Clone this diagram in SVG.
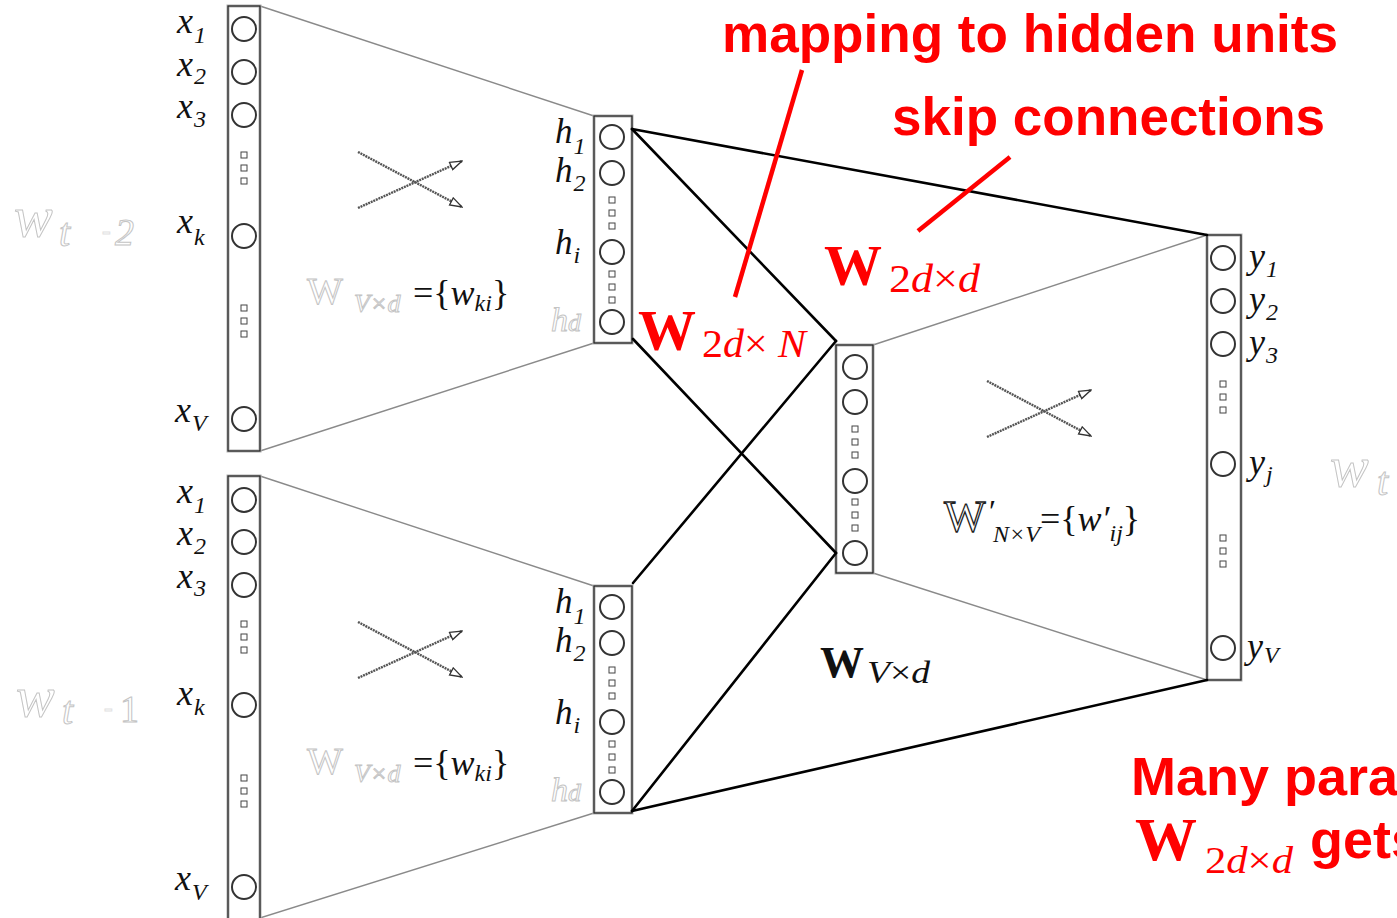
<svg xmlns="http://www.w3.org/2000/svg" xmlns:xlink="http://www.w3.org/1999/xlink" width="1397" height="918" viewBox="0 0 1397 918">
<defs>
<style>
.colo{fill:#fff;stroke:#b0b0b0;stroke-width:3}
.coli{fill:none;stroke:#222;stroke-width:1.2}
.nd{fill:#fff;stroke:#333;stroke-width:2}
.sq{fill:#fff;stroke:#444;stroke-width:1}
.trap{stroke:#8a8a8a;stroke-width:1.4;fill:none}
.conn{stroke:#000;stroke-width:2.6;fill:none;stroke-linecap:round}
.rl{stroke:#f00;stroke-width:4.5;stroke-linecap:butt}
.xa{stroke:#555;stroke-width:2.4;stroke-dasharray:2 0.8;fill:none}
.m{font-family:"Liberation Serif","Times New Roman",serif;font-style:italic;fill:#111}
.up{font-family:"Liberation Serif","Times New Roman",serif;fill:#111}
.bw{font-family:"Liberation Serif","Times New Roman",serif;font-weight:bold}
.gh{font-family:"Liberation Serif","Times New Roman",serif;font-style:italic;fill:#fff;stroke:#c4c4c4;stroke-width:1}
.ghn{font-family:"Liberation Serif","Times New Roman",serif;font-style:normal;fill:#fff;stroke:#c4c4c4;stroke-width:1}
.red{fill:#f00}
.rt{font-family:"Liberation Sans",Arial,sans-serif;font-weight:bold;fill:#f00}
</style>
<marker id="ah" viewBox="0 0 14 10" refX="13" refY="5" markerWidth="14" markerHeight="10" markerUnits="userSpaceOnUse" orient="auto">
<path d="M1,1 L13,5 L1,9 Z" fill="#fff" stroke="#333" stroke-width="1.3"/>
</marker>
<g id="dots" class="sq"><rect x="-3" y="-16" width="6" height="6"/><rect x="-3" y="-3" width="6" height="6"/><rect x="-3" y="10" width="6" height="6"/></g>
<g id="xarr"><line class="xa" x1="0" y1="0" x2="104" y2="55" marker-end="url(#ah)"/><line class="xa" x1="0" y1="56" x2="104" y2="9" marker-end="url(#ah)"/></g>
</defs>
<rect width="1397" height="918" fill="#fff"/>

<!-- trapezoid (gray) lines -->
<g id="trapezoids">
<line class="trap" x1="260" y1="6" x2="594" y2="116"/>
<line class="trap" x1="260" y1="451" x2="594" y2="343"/>
<line class="trap" x1="260" y1="476" x2="594" y2="586"/>
<line class="trap" x1="260" y1="918" x2="594" y2="813"/>
<line class="trap" x1="873" y1="345" x2="1207" y2="235"/>
<line class="trap" x1="873" y1="573" x2="1207" y2="680"/>
</g>

<!-- top input layer -->
<g id="input-top">
<rect class="colo" x="228" y="6" width="32" height="445"/>
<rect class="coli" x="228" y="6" width="32" height="445"/>
<circle class="nd" cx="244" cy="29" r="12"/>
<circle class="nd" cx="244" cy="72" r="12"/>
<circle class="nd" cx="244" cy="115" r="12"/>
<circle class="nd" cx="244" cy="236" r="12"/>
<circle class="nd" cx="244" cy="419" r="12"/>
<use xlink:href="#dots" x="244" y="168"/>
<use xlink:href="#dots" x="244" y="321"/>
<text class="m" x="177" y="33" font-size="36">x<tspan font-size="24" dy="10" dx="1">1</tspan></text>
<text class="m" x="177" y="76" font-size="36">x<tspan font-size="24" dy="8" dx="1">2</tspan></text>
<text class="m" x="177" y="118" font-size="36">x<tspan font-size="24" dy="9" dx="1">3</tspan></text>
<text class="m" x="177" y="233" font-size="36">x<tspan font-size="24" dy="12" dx="1">k</tspan></text>
<text class="m" x="175" y="422" font-size="36">x<tspan font-size="24" dy="9" dx="1">V</tspan></text>
</g>

<!-- bottom input layer -->
<g id="input-bottom">
<rect class="colo" x="228" y="476" width="32" height="460"/>
<rect class="coli" x="228" y="476" width="32" height="460"/>
<circle class="nd" cx="244" cy="500" r="12"/>
<circle class="nd" cx="244" cy="542" r="12"/>
<circle class="nd" cx="244" cy="585" r="12"/>
<circle class="nd" cx="244" cy="705" r="12"/>
<circle class="nd" cx="244" cy="887" r="12"/>
<use xlink:href="#dots" x="244" y="637"/>
<use xlink:href="#dots" x="244" y="791"/>
<text class="m" x="177" y="503" font-size="36">x<tspan font-size="24" dy="10" dx="1">1</tspan></text>
<text class="m" x="177" y="545" font-size="36">x<tspan font-size="24" dy="9" dx="1">2</tspan></text>
<text class="m" x="177" y="588" font-size="36">x<tspan font-size="24" dy="8" dx="1">3</tspan></text>
<text class="m" x="177" y="705" font-size="36">x<tspan font-size="24" dy="10" dx="1">k</tspan></text>
<text class="m" x="175" y="890" font-size="36">x<tspan font-size="24" dy="10" dx="1">V</tspan></text>
</g>

<!-- top hidden layer -->
<g id="hidden-top">
<rect class="colo" x="594" y="116" width="38" height="227"/>
<rect class="coli" x="594" y="116" width="38" height="227"/>
<circle class="nd" cx="612" cy="137" r="12"/>
<circle class="nd" cx="612" cy="173" r="12"/>
<circle class="nd" cx="612" cy="252" r="12"/>
<circle class="nd" cx="612" cy="322" r="12"/>
<use xlink:href="#dots" x="612" y="213"/>
<use xlink:href="#dots" x="612" y="287"/>
<text class="m" x="555" y="143" font-size="35">h<tspan font-size="24" dy="11" dx="1">1</tspan></text>
<text class="m" x="555" y="182" font-size="35">h<tspan font-size="24" dy="9" dx="1">2</tspan></text>
<text class="m" x="555" y="254" font-size="35">h<tspan font-size="24" dy="9" dx="1">i</tspan></text>
<text class="gh" x="551" y="331" font-size="34">h<tspan font-size="26">d</tspan></text>
</g>

<!-- bottom hidden layer -->
<g id="hidden-bottom">
<rect class="colo" x="594" y="586" width="38" height="227"/>
<rect class="coli" x="594" y="586" width="38" height="227"/>
<circle class="nd" cx="612" cy="607" r="12"/>
<circle class="nd" cx="612" cy="643" r="12"/>
<circle class="nd" cx="612" cy="722" r="12"/>
<circle class="nd" cx="612" cy="792" r="12"/>
<use xlink:href="#dots" x="612" y="683"/>
<use xlink:href="#dots" x="612" y="757"/>
<text class="m" x="555" y="613" font-size="35">h<tspan font-size="24" dy="11" dx="1">1</tspan></text>
<text class="m" x="555" y="652" font-size="35">h<tspan font-size="24" dy="9" dx="1">2</tspan></text>
<text class="m" x="555" y="724" font-size="35">h<tspan font-size="24" dy="9" dx="1">i</tspan></text>
<text class="gh" x="551" y="801" font-size="34">h<tspan font-size="26">d</tspan></text>
</g>

<!-- middle hidden layer -->
<g id="hidden-merged">
<rect class="colo" x="836" y="345" width="37" height="228"/>
<rect class="coli" x="836" y="345" width="37" height="228"/>
<circle class="nd" cx="855" cy="367" r="12"/>
<circle class="nd" cx="855" cy="402" r="12"/>
<circle class="nd" cx="855" cy="481" r="12"/>
<circle class="nd" cx="855" cy="553" r="12"/>
<use xlink:href="#dots" x="855" y="442"/>
<use xlink:href="#dots" x="855" y="515"/>
</g>

<!-- output layer -->
<g id="output">
<rect class="colo" x="1207" y="235" width="34" height="445"/>
<rect class="coli" x="1207" y="235" width="34" height="445"/>
<circle class="nd" cx="1223" cy="258" r="12"/>
<circle class="nd" cx="1223" cy="301" r="12"/>
<circle class="nd" cx="1223" cy="344" r="12"/>
<circle class="nd" cx="1223" cy="464" r="12"/>
<circle class="nd" cx="1223" cy="648" r="12"/>
<use xlink:href="#dots" x="1223" y="397"/>
<use xlink:href="#dots" x="1223" y="551"/>
<text class="m" x="1249" y="268" font-size="36">y<tspan font-size="24" dy="9" dx="1">1</tspan></text>
<text class="m" x="1249" y="311" font-size="36">y<tspan font-size="24" dy="9" dx="1">2</tspan></text>
<text class="m" x="1249" y="354" font-size="36">y<tspan font-size="24" dy="9" dx="1">3</tspan></text>
<text class="m" x="1249" y="474" font-size="36">y<tspan font-size="24" dy="8" dx="1">j</tspan></text>
<text class="m" x="1247" y="658" font-size="36">y<tspan font-size="24" dy="5" dx="1">V</tspan></text>
</g>

<!-- cross arrows inside panels -->
<g id="cross-arrows">
<use xlink:href="#xarr" x="358" y="152"/>
<use xlink:href="#xarr" x="358" y="622"/>
<use xlink:href="#xarr" x="987" y="381"/>
</g>

<!-- weight labels inside panels -->
<g id="weight-labels">
<text class="ghn" x="307" y="304" font-size="38">W</text>
<text class="gh" x="354" y="312" font-size="26">V×d</text>
<text class="up" x="413" y="305" font-size="36">={<tspan style="font-style:italic">w</tspan><tspan style="font-style:italic" font-size="24" dy="6">ki</tspan><tspan dy="-6">}</tspan></text>
<text class="ghn" x="307" y="774" font-size="38">W</text>
<text class="gh" x="354" y="782" font-size="26">V×d</text>
<text class="up" x="413" y="775" font-size="36">={<tspan style="font-style:italic">w</tspan><tspan style="font-style:italic" font-size="24" dy="6">ki</tspan><tspan dy="-6">}</tspan></text>
<text class="up" x="944" y="531" font-size="44" style="fill:#fff;stroke:#222;stroke-width:1.3">W</text>
<text class="up" x="989" y="522" font-size="32">′</text>
<text class="m" x="993" y="542" font-size="24">N×V</text>
<text class="up" x="1040" y="531" font-size="36">={<tspan style="font-style:italic">w′</tspan><tspan style="font-style:italic" font-size="24" dy="10">ij</tspan><tspan dy="-10">}</tspan></text>
</g>

<!-- ghost context-word labels -->
<g id="ghost-labels">
<text class="gh" x="14" y="236" font-size="58">w</text>
<text class="gh" x="59" y="246" font-size="40">t</text>
<text class="ghn" x="102" y="239" font-size="26" style="stroke:#e2e2e2">-</text>
<text class="gh" x="115" y="245" font-size="38">2</text>
<text class="gh" x="16" y="716" font-size="58">w</text>
<text class="gh" x="62" y="724" font-size="40">t</text>
<text class="ghn" x="104" y="716" font-size="26" style="stroke:#e2e2e2">-</text>
<text class="ghn" x="120" y="722" font-size="38">1</text>
<text class="gh" x="1330" y="486" font-size="58">w</text>
<text class="gh" x="1377" y="495" font-size="40">t</text>
</g>

<!-- connectors -->
<g id="connectors">
<line class="conn" x1="632" y1="129" x2="1207" y2="235"/>
<line class="conn" x1="632" y1="129" x2="836" y2="341"/>
<line class="conn" x1="633" y1="339" x2="836" y2="553"/>
<line class="conn" x1="633" y1="583" x2="836" y2="341"/>
<line class="conn" x1="632" y1="811" x2="836" y2="553"/>
<line class="conn" x1="632" y1="811" x2="1207" y2="680"/>
</g>

<!-- black weight label -->
<g id="label-WVxd">
<text class="bw" x="820" y="677" font-size="44" fill="#111">W</text>
<text class="m" x="867" y="683" font-size="32" textLength="63" lengthAdjust="spacingAndGlyphs">V<tspan style="font-style:normal">×</tspan>d</text>
</g>

<!-- red annotations -->
<g id="annotations">
<line class="rl" x1="802" y1="70" x2="735" y2="297"/>
<line class="rl" x1="1010" y1="157" x2="918" y2="231"/>
<text class="rt" x="722" y="52" font-size="53" textLength="616" lengthAdjust="spacingAndGlyphs">mapping to hidden units</text>
<text class="rt" x="892" y="135" font-size="53" textLength="433" lengthAdjust="spacingAndGlyphs">skip connections</text>
<text class="bw red" x="638" y="350" font-size="58">W</text>
<text class="m red" x="702" y="357" font-size="40" textLength="104" lengthAdjust="spacingAndGlyphs"><tspan style="font-style:normal">2</tspan>d<tspan style="font-style:normal">×</tspan> N</text>
<text class="bw red" x="824" y="285" font-size="58">W</text>
<text class="m red" x="889" y="292" font-size="40" textLength="91" lengthAdjust="spacingAndGlyphs"><tspan style="font-style:normal">2</tspan>d<tspan style="font-style:normal">×</tspan>d</text>
<text class="rt" x="1131" y="795" font-size="54">Many para</text>
<text class="bw red" x="1135" y="860" font-size="62">W</text>
<text class="m red" x="1205" y="873" font-size="38" textLength="88" lengthAdjust="spacingAndGlyphs"><tspan style="font-style:normal">2</tspan>d<tspan style="font-style:normal">×</tspan>d</text>
<text class="rt" x="1310" y="858" font-size="54">gets</text>
</g>
</svg>
